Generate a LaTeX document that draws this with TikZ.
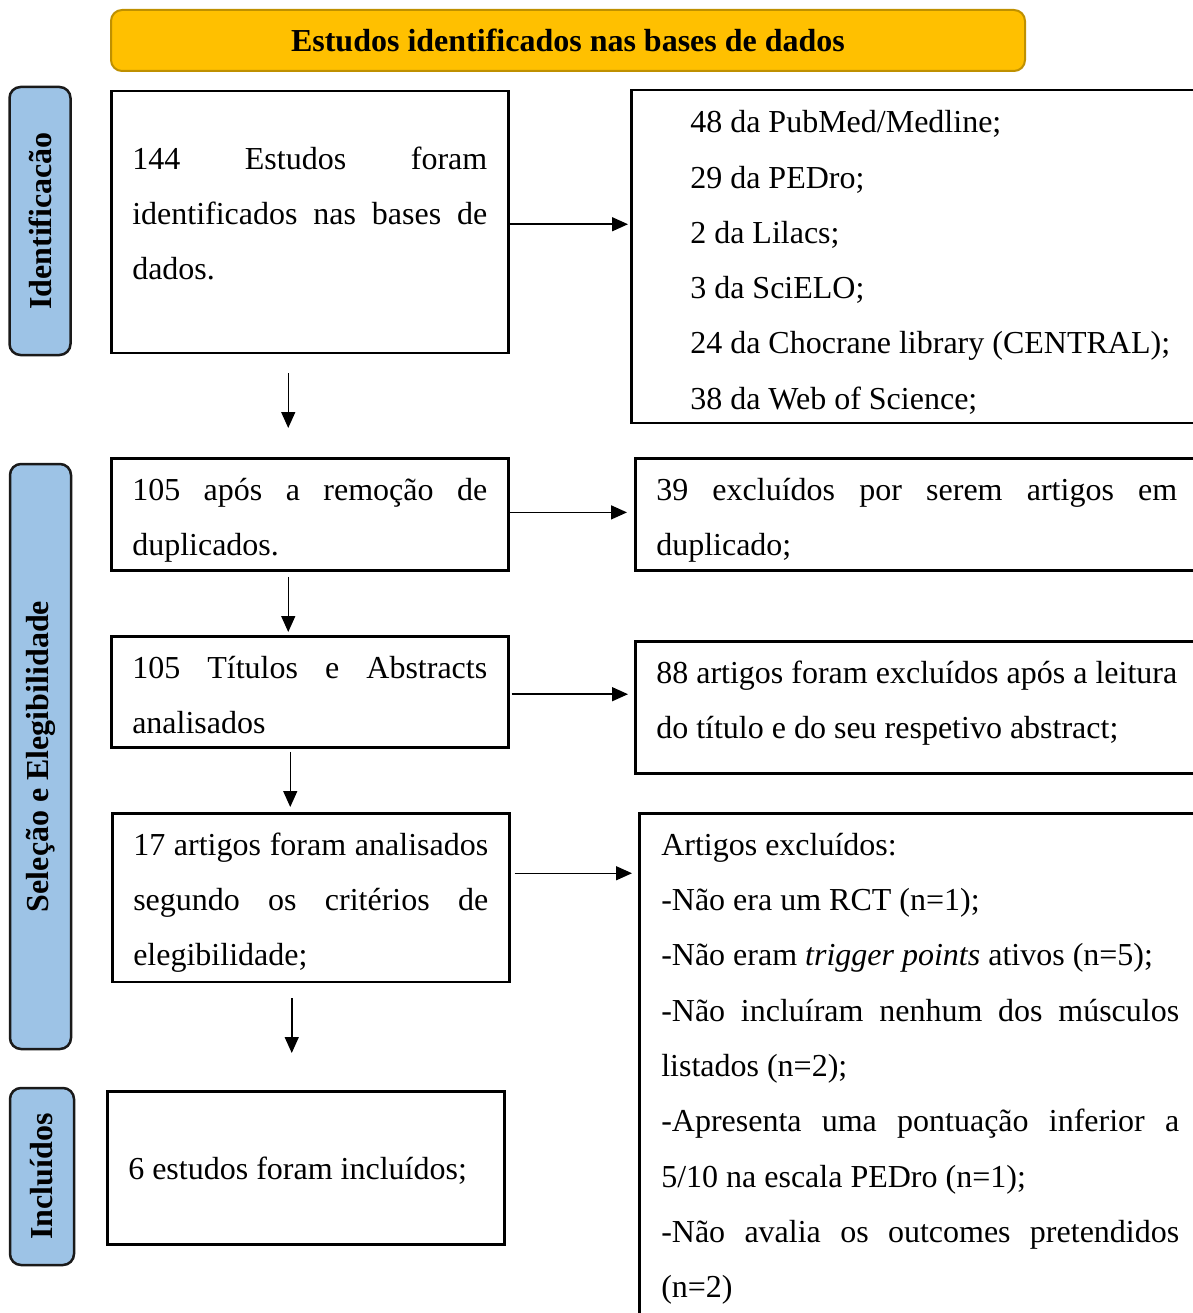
\documentclass[tikz,border=0pt]{standalone}
\usepackage{fontspec}
\setmainfont{Liberation Serif}
\usetikzlibrary{arrows.meta,positioning}
\definecolor{ouro}{HTML}{FFC000}
\definecolor{ourofio}{HTML}{BF9000}
\definecolor{azulfase}{HTML}{9DC3E6}
\definecolor{azulfio}{HTML}{1A1A1A}
\begin{document}
\begin{tikzpicture}[x=1pt, y=-1pt,
    font=\fontsize{32}{55.3}\selectfont,
    caixa/.style={draw, line width=2.5pt, anchor=north west, inner xsep=21pt, inner ysep=0pt, text width=355pt, align=justify},
    topo/.style={execute at begin node={\rule{0pt}{#1}}},
    fundo/.style={execute at end node={\rule[-#1]{0pt}{0pt}}},
    fase/.style={draw=azulfio, fill=azulfase, line width=2.5pt, rounded corners=11pt, rotate=90, minimum height=61pt, font=\fontsize{32}{40}\selectfont\bfseries},
    seta/.style={-{Triangle[length=16pt, width=14pt]}, line width=1.5pt}]
        \useasboundingbox (0,0) rectangle (1192,1313);
        
        % Titulo
        \node[draw=ourofio, fill=ouro, line width=2pt, rounded corners=11pt, minimum width=914pt, minimum height=61pt, font=\fontsize{32}{40}\selectfont\bfseries] (titulo) at (568,40.5) {Estudos identificados nas bases de dados};
        
        % Fases
        \node[fase, minimum width=268pt] (ident) at (40,221) {Identificacão};
        \node[fase, minimum width=585pt] (selec) at (40.5,756.5) {Seleção e Elegibilidade};
        \node[fase, minimum width=177pt, minimum height=64pt] (incl) at (42,1176.5) {Incluídos};
        
        % Caixas da esquerda
        \node[caixa, topo=78pt, fundo=73pt] (ident1) at (110,90) {144 Estudos foram\linebreak identificados nas bases de\linebreak dados.};
        \node[caixa, topo=42pt, fundo=15pt] (dupl) at (110,457) {105 após a remoção de\linebreak duplicados.};
        \node[caixa, topo=42pt, fundo=14pt] (titabs) at (110,635) {105 Títulos e Abstracts\linebreak analisados};
        \node[caixa, topo=42pt, fundo=16pt] (elegib) at (111,812) {17 artigos foram analisados\linebreak segundo os critérios de\linebreak elegibilidade;};
        \node[caixa, topo=88pt, fundo=65pt] (inclu) at (106,1090) {6 estudos foram incluídos;};
        
        % Caixas da direita
        \node[caixa, topo=42.5pt, fundo=13.5pt, inner xsep=59pt, text width=490pt] (bases) at (630,89) {48 da PubMed/Medline;\\29 da PEDro;\\2 da Lilacs;\\3 da SciELO;\\24 da Chocrane library (CENTRAL);\\38 da Web of Science;};
        \node[caixa, topo=42pt, fundo=15pt, text width=521pt] (excl1) at (634,457) {39 excluídos por serem artigos em\linebreak duplicado;};
        \node[caixa, topo=42pt, fundo=35pt, text width=521pt] (excl2) at (634,640) {88 artigos foram excluídos após a leitura\linebreak do título e do seu respetivo abstract;};
        \node[caixa, topo=42pt, fundo=30pt, inner xsep=22pt, text width=518pt] (excl3) at (638,812) {Artigos excluídos:\\-Não era um RCT (n=1);\\-Não eram \textit{trigger points} ativos (n=5);\\-Não incluíram nenhum dos músculos\linebreak listados (n=2);\\-Apresenta uma pontuação inferior a\linebreak 5/10 na escala PEDro (n=1);\\-Não avalia os outcomes pretendidos\linebreak (n=2)};
        
        % Setas para baixo
        \draw[seta, shorten <=19pt, shorten >=29pt] ([xshift=-21.5pt]ident1.south) -- ([xshift=-21.5pt]dupl.north);
        \draw[seta, shorten <=5pt, shorten >=3pt] ([xshift=-21.5pt]dupl.south) -- ([xshift=-21.5pt]titabs.north);
        \draw[seta, shorten <=3pt, shorten >=5pt] ([xshift=-19.5pt]titabs.south) -- ([xshift=-19.5pt]titabs.south |- elegib.north);
        \draw[seta, shorten <=15pt, shorten >=37pt] ([xshift=-19pt]elegib.south) -- ([xshift=-19pt]elegib.south |- inclu.north);
        
        % Setas para a direita
        \draw[seta, shorten >=2pt] ([yshift=-2.2pt]ident1.east) -- ([yshift=-2.2pt]ident1.east -| bases.west);
        \draw[seta, shorten >=7pt] ([yshift=2pt]dupl.east) -- ([yshift=2pt]dupl.east -| excl1.west);
        \draw[seta, shorten <=2pt, shorten >=6pt] ([yshift=-2.3pt]titabs.east) -- ([yshift=-2.3pt]titabs.east -| excl2.west);
        \draw[seta, shorten <=4pt, shorten >=6pt] ([yshift=24.3pt]elegib.east) -- ([yshift=24.3pt]elegib.east -| excl3.west);
        
    \end{tikzpicture}
\end{document}
